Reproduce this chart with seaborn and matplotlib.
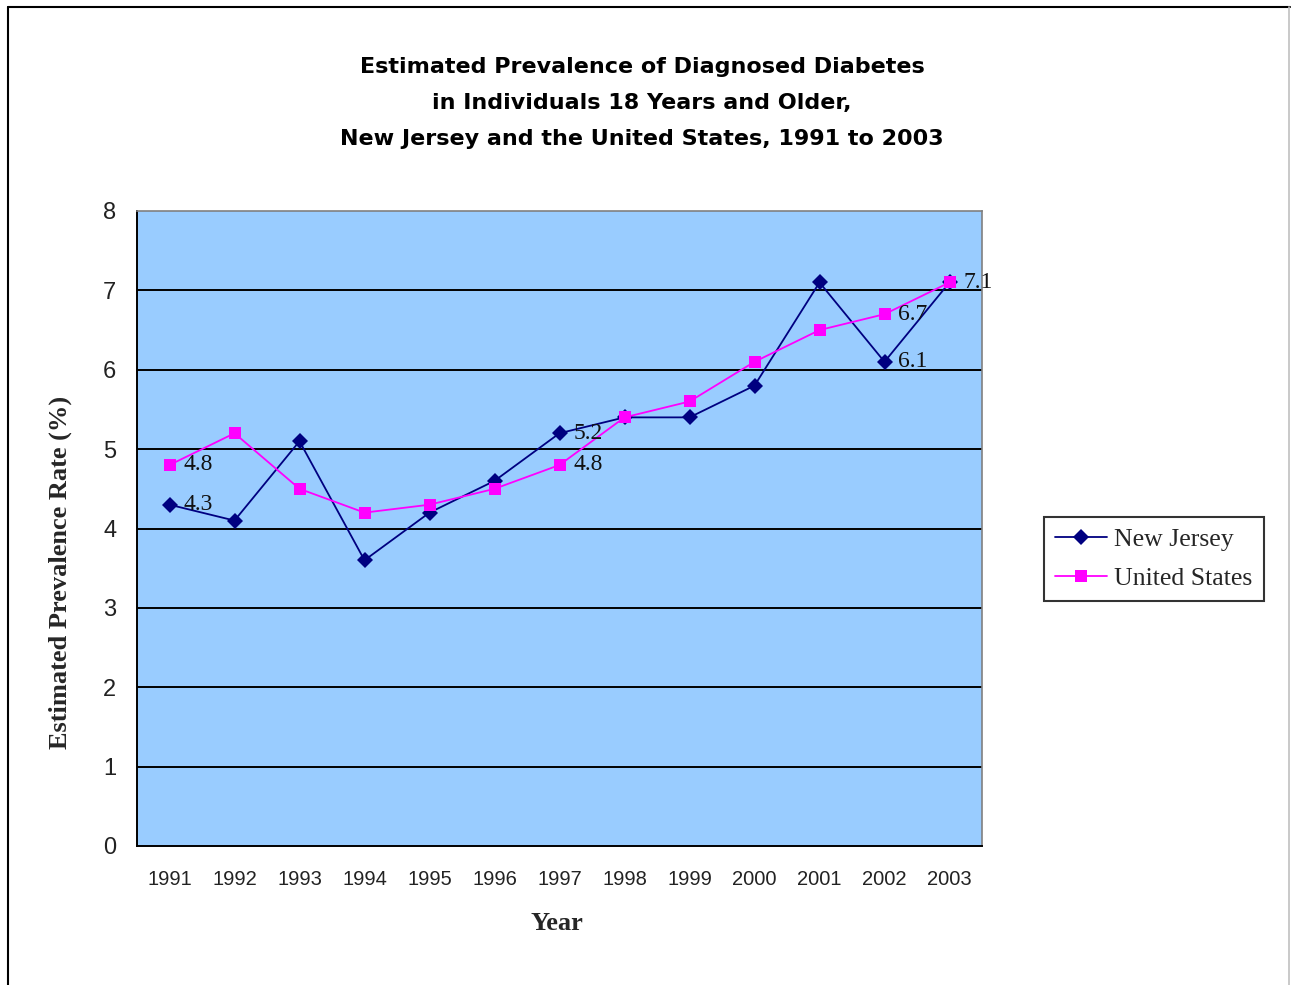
# 뉴저지 / 미국 당뇨 유병률 추이 (1991-2003)
import numpy as np
import pandas as pd
import seaborn as sns
import matplotlib.pyplot as plt
from matplotlib.lines import Line2D

years = ['1991', '1992', '1993', '1994', '1995', '1996', '1997',
         '1998', '1999', '2000', '2001', '2002', '2003']
new_jersey = [4.3, 4.1, 5.1, 3.6, 4.2, 4.6, 5.2, 5.4, 5.4, 5.8, 7.1, 6.1, 7.1]
united_states = [4.8, 5.2, 4.5, 4.2, 4.3, 4.5, 4.8, 5.4, 5.6, 6.1, 6.5, 6.7, 7.1]

# 값 라벨을 붙이는 연도
nj_labeled = ['1991', '1997', '2002', '2003']
us_labeled = ['1991', '1997', '2002']

df = pd.DataFrame({
    'pos': list(range(len(years))) * 2,
    'year': years * 2,
    'rate': new_jersey + united_states,
    'series': ['New Jersey'] * len(years) + ['United States'] * len(years),
})

sns.set_style('white')
serif = ['Liberation Serif', 'DejaVu Serif']
sans = ['Liberation Sans', 'DejaVu Sans']

fig = plt.figure(figsize=(12.91, 9.85), dpi=100)
ax = fig.add_axes([137 / 1291, 1 - 846 / 985, 845 / 1291, 635 / 985])
ax.set_facecolor('#99CCFF')

sns.lineplot(data=df, x='pos', y='rate', hue='series', style='series',
             palette={'New Jersey': '#000080', 'United States': '#FF00FF'},
             markers={'New Jersey': 'D', 'United States': 's'},
             dashes=False, markersize=8, markeredgewidth=0, linewidth=1.3,
             ax=ax, legend=False)

# 데이터 라벨
for name, vals, labeled in [('New Jersey', new_jersey, nj_labeled),
                            ('United States', united_states, us_labeled)]:
    for i, y in enumerate(years):
        if y in labeled:
            ax.annotate(f'{vals[i]:.1f}', (i, vals[i]), xytext=(10, 0),
                        textcoords='offset points', ha='left', va='center',
                        fontsize=17, family=serif, color='#111111')

ax.set_xlim(-0.5, len(years) - 0.5)
ax.set_ylim(0, 8)
ax.set_yticks(range(0, 9))
ax.set_xticks(range(len(years)))
ax.set_xticklabels(years)
ax.set_xticks(np.arange(-0.5, len(years)), minor=True)
ax.tick_params(axis='x', which='major', length=0, pad=17, labelsize=14.5)
ax.tick_params(axis='x', which='minor', length=7, width=1.2, color='black', direction='out')
ax.tick_params(axis='y', length=7, width=1.2, color='black', direction='out',
               pad=8, labelsize=17)
for lab in ax.get_xticklabels() + ax.get_yticklabels():
    lab.set_family(sans)
    lab.set_color('#222222')

for y in range(1, 8):
    ax.axhline(y, color='black', linewidth=1.4, zorder=1)

for side in ['left', 'bottom']:
    ax.spines[side].set_color('black')
    ax.spines[side].set_linewidth(1.4)
for side in ['top', 'right']:
    ax.spines[side].set_color('#808080')
    ax.spines[side].set_linewidth(1.2)

ax.set_xlabel('')
ax.set_ylabel('')
fig.text(557 / 1291, 1 - 923 / 985, 'Year', ha='center', va='center',
         fontsize=19, fontweight='bold', family=serif)
fig.text(60 / 1291, 1 - 572 / 985, 'Estimated Prevalence Rate (%)', ha='center',
         va='center', rotation=90, fontsize=19, fontweight='bold', family=serif)

fig.text(642 / 1291, 1 - 103 / 985,
         'Estimated Prevalence of Diagnosed Diabetes\n'
         'in Individuals 18 Years and Older,\n'
         'New Jersey and the United States, 1991 to 2003',
         ha='center', va='center', fontsize=16, fontweight='bold',
         family=['DejaVu Sans'], linespacing=1.97, color='black')

# 범례
handles = [Line2D([], [], color='#000080', marker='D', markersize=8, lw=1.3,
                  markeredgewidth=0),
           Line2D([], [], color='#FF00FF', marker='s', markersize=9, lw=1.3,
                  markeredgewidth=0)]
leg = fig.legend(handles, ['New Jersey', 'United States'],
                 loc='center', bbox_to_anchor=(1154 / 1291, 1 - 559 / 985),
                 frameon=True, fancybox=False, edgecolor='black',
                 prop={'family': serif, 'size': 18.5}, handlelength=2.0,
                 labelspacing=0.6, borderpad=0.45, handletextpad=0.3)
leg.get_frame().set_linewidth(1.5)

# 차트 외곽선
fig.add_artist(Line2D([8 / 1291, 8 / 1291], [0, 1 - 7 / 985], color='black', lw=1.5))
fig.add_artist(Line2D([8 / 1291, 1290 / 1291], [1 - 7 / 985, 1 - 7 / 985], color='black', lw=1.5))
fig.add_artist(Line2D([1289 / 1291, 1289 / 1291], [0, 1 - 7 / 985], color='#C0C0C0', lw=1.2))

fig.savefig('out.png', dpi=100)
